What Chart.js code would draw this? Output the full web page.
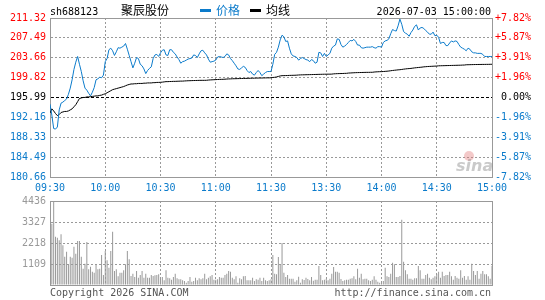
<!DOCTYPE html>
<html>
<head>
<meta charset="utf-8">
<script src="https://cdn.jsdelivr.net/npm/chart.js@4"></script>
<style>
    html, body { margin: 0; padding: 0; background: #fff; }
    #wrap { position: relative; width: 545px; height: 300px; }
    #wrap canvas { position: absolute; left: 0; top: 0; }
</style>
</head>
<body>
<div id="wrap">
    <canvas id="priceChart" width="545" height="300"></canvas>
    <canvas id="volumeChart" width="545" height="300"></canvas>
</div>
<script>
// One value per trading minute: 09:30-11:30 then 13:00-15:00 (241 points)
const priceValues = [
    194.7, 192.6, 190.0, 189.9, 190.3, 193.6, 194.9, 195.1, 195.4, 195.7,
    196.6, 197.8, 199.4, 201.4, 202.8, 203.9, 202.4, 201.0, 199.2, 197.8,
    197.4, 196.8, 196.3, 197.0, 197.9, 199.4, 199.6, 199.9, 199.8, 200.3,
    202.9, 203.5, 205.2, 205.5, 205.0, 204.1, 204.8, 205.6, 205.5, 205.7,
    205.9, 206.4, 205.3, 204.1, 202.9, 201.7, 202.6, 203.7, 203.5, 202.4,
    202.1, 201.5, 200.6, 201.2, 201.6, 201.9, 203.5, 204.2, 204.3, 203.9,
    204.6, 205.1, 205.2, 204.2, 204.1, 205.2, 205.2, 204.7, 204.4, 203.8,
    203.3, 202.6, 202.9, 203.0, 203.2, 203.4, 203.5, 203.6, 204.2, 204.1,
    203.7, 204.4, 205.0, 205.1, 204.6, 204.2, 203.4, 202.8, 202.9, 203.0,
    203.2, 203.8, 203.9, 203.8, 203.7, 203.9, 204.4, 204.2, 203.5, 203.1,
    202.6, 202.1, 201.5, 201.4, 201.7, 202.0, 201.8, 201.2, 200.8, 201.0,
    200.5, 200.3, 200.8, 201.2, 200.8, 200.2, 200.5, 200.8, 201.0, 201.0,
    201.0, 202.4, 204.3, 204.7, 205.7, 207.1, 208.0, 207.7, 206.8, 206.9,
    205.5, 204.4, 204.0, 203.9, 203.7, 203.2, 203.5, 203.7, 203.5, 203.3,
    203.2, 202.9, 203.3, 203.1, 202.6, 202.8, 204.7, 204.6, 203.9, 204.5,
    203.9, 204.2, 204.5, 205.5, 205.9, 206.1, 207.3, 207.2, 206.2, 205.7,
    205.9, 206.2, 206.6, 207.0, 206.9, 207.2, 206.8, 206.1, 206.1, 205.6,
    205.5, 205.6, 205.7, 205.7, 205.7, 205.8, 205.6, 205.5, 205.8, 205.8,
    205.7, 206.6, 206.9, 207.0, 207.3, 208.3, 209.1, 208.9, 208.8, 209.8,
    211.1, 210.1, 208.7, 208.4, 208.2, 207.8, 208.5, 209.0, 209.7, 210.0,
    209.0, 209.4, 209.5, 209.3, 208.9, 208.6, 208.2, 208.2, 208.6, 207.9,
    208.0, 207.6, 206.4, 206.6, 206.6, 206.0, 206.0, 206.5, 206.9, 206.7,
    206.9, 206.8, 206.2, 205.7, 205.5, 205.3, 205.0, 205.5, 205.3, 204.8,
    204.6, 204.6, 204.5, 204.5, 204.5, 204.3, 203.9, 203.9, 203.9, 203.9,
    203.9
];

const avgValues = [
    193.0, 193.8, 193.4, 192.9, 192.5, 192.7, 193.1, 193.2, 193.3, 193.3,
    193.4, 193.6, 193.8, 194.2, 194.6, 195.2, 195.8, 195.9, 196.0, 196.0,
    196.1, 196.1, 196.15, 196.2, 196.25, 196.3, 196.3, 196.4, 196.45, 196.6,
    196.7, 196.9, 197.1, 197.3, 197.5, 197.6, 197.7, 197.8, 197.9, 198.0,
    198.1, 198.25, 198.4, 198.5, 198.6, 198.6, 198.65, 198.65, 198.7, 198.7,
    198.7, 198.75, 198.75, 198.8, 198.8, 198.8, 198.85, 198.85, 198.9, 198.9,
    198.92, 198.95, 199.0, 199.05, 199.05, 199.07, 199.08, 199.1, 199.1, 199.12,
    199.13, 199.15, 199.15, 199.18, 199.2, 199.22, 199.23, 199.25, 199.26, 199.27,
    199.28, 199.29, 199.3, 199.3, 199.3, 199.31, 199.35, 199.38, 199.4, 199.42,
    199.44, 199.46, 199.48, 199.49, 199.5, 199.52, 199.55, 199.57, 199.58, 199.6,
    199.61, 199.62, 199.63, 199.64, 199.65, 199.66, 199.67, 199.68, 199.69, 199.7,
    199.71, 199.72, 199.73, 199.74, 199.75, 199.75, 199.76, 199.77, 199.78, 199.78,
    199.8, 199.85, 199.88, 199.95, 200.05, 200.15, 200.2, 200.21, 200.22, 200.23,
    200.25, 200.26, 200.27, 200.28, 200.3, 200.33, 200.35, 200.36, 200.37, 200.38,
    200.39, 200.4, 200.41, 200.42, 200.43, 200.44, 200.45, 200.46, 200.47, 200.48,
    200.48, 200.49, 200.49, 200.5, 200.55, 200.57, 200.59, 200.6, 200.61, 200.62,
    200.64, 200.65, 200.7, 200.72, 200.74, 200.76, 200.78, 200.79, 200.8, 200.81,
    200.82, 200.83, 200.84, 200.84, 200.85, 200.85, 200.9, 200.93, 200.95, 200.97,
    200.98, 201.0, 201.03, 201.06, 201.1, 201.15, 201.2, 201.24, 201.28, 201.32,
    201.35, 201.4, 201.45, 201.5, 201.54, 201.57, 201.6, 201.65, 201.7, 201.74,
    201.78, 201.81, 201.85, 201.9, 201.93, 201.96, 201.98, 202.0, 202.02, 202.04,
    202.05, 202.1, 202.11, 202.12, 202.13, 202.14, 202.15, 202.16, 202.17, 202.18,
    202.19, 202.2, 202.21, 202.22, 202.24, 202.25, 202.3, 202.31, 202.32, 202.33,
    202.34, 202.35, 202.35, 202.36, 202.36, 202.37, 202.37, 202.38, 202.38, 202.39,
    202.4
];

// Volume per minute (hands)
const volumeValues = [
    1408, 3238, 4436, 2552, 2500, 2358, 2675, 2094, 1496, 1760,
    1091, 1496, 1443, 2024, 1654, 2323, 2323, 1496, 862, 1126,
    2270, 827, 968, 704, 651, 1091, 827, 862, 1584, 528,
    1795, 1302, 915, 1795, 2816, 739, 827, 458, 651, 651,
    774, 1091, 1795, 1355, 475, 598, 422, 739, 387, 528,
    739, 387, 598, 387, 387, 528, 475, 510, 528, 563,
    352, 422, 246, 774, 387, 352, 282, 422, 598, 352,
    299, 299, 246, 211, 123, 211, 422, 176, 211, 387,
    246, 352, 299, 352, 598, 299, 387, 458, 528, 282,
    282, 299, 422, 387, 387, 528, 598, 739, 704, 387,
    299, 458, 123, 352, 299, 458, 475, 246, 246, 246,
    387, 211, 299, 282, 387, 211, 387, 246, 211, 246,
    299,
    1584, 598, 563, 1478, 1091, 2218, 651, 422, 528, 334,
    334, 334, 176, 246, 440, 123, 299, 264, 387, 317,
    246, 422, 229, 282, 282, 1003, 528, 246, 282, 334,
    246, 334, 598, 950, 704, 704, 651, 317, 211, 246,
    282, 282, 334, 352, 458, 299, 862, 387, 598, 299,
    334, 334, 246, 211, 282, 458, 282, 176, 123, 176,
    211, 915, 458, 422, 598, 1179, 1091, 422, 422, 475,
    3450, 1232, 774, 563, 334, 334, 282, 352, 352, 1003,
    774, 334, 334, 528, 598, 387, 299, 387, 458, 598,
    704, 387, 704, 475, 528, 528, 704, 458, 282, 475,
    387, 334, 774, 387, 475, 282, 458, 282, 1126, 739,
    528, 739, 334, 598, 739, 563, 563, 458, 334, 1020
];

const priceTicks = [180.66, 184.49, 188.33, 192.16, 195.99, 199.82, 203.66, 207.49, 211.32];
const priceTickLabels = ['180.66', '184.49', '188.33', '192.16', '195.99', '199.82', '203.66', '207.49', '211.32'];
const pctTickLabels = ['-7.82%', '-5.87%', '-3.91%', '-1.96%', '0.00%', '+1.96%', '+3.91%', '+5.87%', '+7.82%'];
const timeTickMinutes = [0, 30, 60, 90, 120, 150, 180, 210, 240];
const timeTickLabels = ['09:30', '10:00', '10:30', '11:00', '11:30', '13:30', '14:00', '14:30', '15:00'];
const volumeTicks = [0, 1109, 2218, 3327, 4436];
const volumeTickLabels = ['', '1109', '2218', '3327', '4436'];

const BLUE = '#0b7bcb';
const RED = '#ff0000';
const FRAME = '#999999';
const DOTS = '#999999';
const MONO = 'DejaVu Sans Mono';

Chart.defaults.font.family = MONO;
Chart.defaults.font.size = 10;

function toPoints(values) {
    return values.map((v, i) => ({ x: i, y: v }));
}

function tickColor(index) {
    if (index === 4) return '#000';
    return index > 4 ? RED : BLUE;
}

function isEdge(index, last) {
    return index === 0 || index === last || index === undefined;
}

// x grid shared by both panels: solid at the ends, dotted inside
function timeAxis(height, showLabels) {
    const last = timeTickMinutes.length - 1;
    return {
        type: 'linear',
        min: 0,
        max: 240,
        offset: false,
        afterBuildTicks: s => { s.ticks = timeTickMinutes.map(v => ({ value: v })); },
        afterFit: s => { s.height = height; },
        ticks: {
            display: showLabels,
            autoSkip: false,
            maxRotation: 0,
            padding: 5,
            color: BLUE,
            callback: (v, i) => timeTickLabels[i]
        },
        grid: {
            offset: false,
            drawTicks: false,
            color: c => isEdge(c.index, last) ? FRAME : DOTS
        },
        border: {
            color: FRAME,
            dash: c => isEdge(c.index, last) ? [] : [2, 2]
        }
    };
}

const headerPlugin = {
    id: 'header',
    afterDraw(chart) {
        const ctx = chart.ctx;
        ctx.save();
        ctx.textBaseline = 'alphabetic';
        ctx.fillStyle = '#000';
        ctx.font = `10px "${MONO}"`;
        ctx.textAlign = 'left';
        ctx.fillText('sh688123', 50, 15);
        ctx.textAlign = 'right';
        ctx.fillText('2026-07-03 15:00:00', 491, 15);

        ctx.textAlign = 'left';
        ctx.font = '12px "Noto Sans CJK SC"';
        ctx.fillText('聚辰股份', 121, 15);

        ctx.fillStyle = BLUE;
        ctx.fillRect(200, 9, 11, 3);
        ctx.fillText('价格', 216, 15);
        ctx.fillStyle = '#000';
        ctx.fillRect(250, 9, 11, 3);
        ctx.fillText('均线', 266, 15);

        // faint sina watermark
        ctx.fillStyle = 'rgba(225,120,120,0.4)';
        ctx.beginPath();
        ctx.arc(469, 156, 5, 0, Math.PI * 2);
        ctx.fill();
        ctx.fillStyle = 'rgba(150,150,150,0.5)';
        ctx.font = 'italic bold 16px "DejaVu Sans"';
        ctx.fillText('sina', 456, 171);
        ctx.restore();
    }
};

const footerPlugin = {
    id: 'footer',
    afterDraw(chart) {
        const ctx = chart.ctx;
        ctx.save();
        ctx.font = `10px "${MONO}"`;
        ctx.fillStyle = '#555';
        ctx.textBaseline = 'alphabetic';
        ctx.textAlign = 'left';
        ctx.fillText('Copyright 2026 SINA.COM', 50, 296);
        ctx.textAlign = 'right';
        ctx.fillText('http://finance.sina.com.cn', 491, 296);
        ctx.restore();
    }
};

function createPriceChart() {
    const last = priceTicks.length - 1;
    new Chart(document.getElementById('priceChart'), {
        type: 'line',
        data: {
            datasets: [{
                label: '价格',
                data: toPoints(priceValues),
                borderColor: BLUE,
                borderWidth: 1,
                pointRadius: 0,
                tension: 0,
                yAxisID: 'y'
            }, {
                label: '均线',
                data: toPoints(avgValues),
                borderColor: '#000',
                borderWidth: 1,
                pointRadius: 0,
                tension: 0,
                yAxisID: 'y'
            }]
        },
        options: {
            responsive: false,
            animation: false,
            layout: { padding: { left: 0, right: 14, top: 18, bottom: 0 } },
            plugins: { legend: { display: false }, tooltip: { enabled: false } },
            scales: {
                x: timeAxis(123, true),
                y: {
                    position: 'left',
                    min: priceTicks[0],
                    max: priceTicks[last],
                    afterBuildTicks: s => { s.ticks = priceTicks.map(v => ({ value: v })); },
                    afterFit: s => { s.width = 50; },
                    ticks: {
                        padding: 4,
                        color: c => tickColor(c.index),
                        callback: (v, i) => priceTickLabels[i]
                    },
                    grid: {
                        drawTicks: false,
                        color: c => {
                            if (c.index === 4) return '#000';
                            return isEdge(c.index, last) ? FRAME : DOTS;
                        }
                    },
                    border: {
                        color: FRAME,
                        dash: c => {
                            if (c.index === 4) return [3, 2];
                            return isEdge(c.index, last) ? [] : [2, 2];
                        }
                    }
                },
                y2: {
                    position: 'right',
                    min: priceTicks[0],
                    max: priceTicks[last],
                    afterBuildTicks: s => { s.ticks = priceTicks.map(v => ({ value: v })); },
                    afterFit: s => { s.width = 39; },
                    ticks: {
                        padding: 0,
                        crossAlign: 'far',
                        color: c => tickColor(c.index),
                        callback: (v, i) => pctTickLabels[i]
                    },
                    grid: { drawOnChartArea: false, drawTicks: false },
                    border: { color: FRAME }
                }
            }
        },
        plugins: [headerPlugin]
    });
}

function createVolumeChart() {
    const last = volumeTicks.length - 1;
    new Chart(document.getElementById('volumeChart'), {
        type: 'bar',
        data: {
            datasets: [{
                data: toPoints(volumeValues),
                backgroundColor: '#999',
                borderWidth: 0,
                barThickness: 1,
                inflateAmount: 0
            }]
        },
        options: {
            responsive: false,
            animation: false,
            layout: { padding: { left: 0, right: 53, top: 201, bottom: 15 } },
            plugins: { legend: { display: false }, tooltip: { enabled: false } },
            scales: {
                x: timeAxis(0, false),
                y: {
                    min: 0,
                    max: volumeTicks[last],
                    afterBuildTicks: s => { s.ticks = volumeTicks.map(v => ({ value: v })); },
                    afterFit: s => { s.width = 50; },
                    ticks: {
                        padding: 4,
                        color: '#999',
                        callback: (v, i) => volumeTickLabels[i]
                    },
                    grid: {
                        drawTicks: false,
                        color: c => isEdge(c.index, last) ? FRAME : DOTS
                    },
                    border: {
                        color: FRAME,
                        dash: c => isEdge(c.index, last) ? [] : [2, 2]
                    }
                }
            }
        },
        plugins: [footerPlugin]
    });
}

createPriceChart();
createVolumeChart();
</script>
</body>
</html>
